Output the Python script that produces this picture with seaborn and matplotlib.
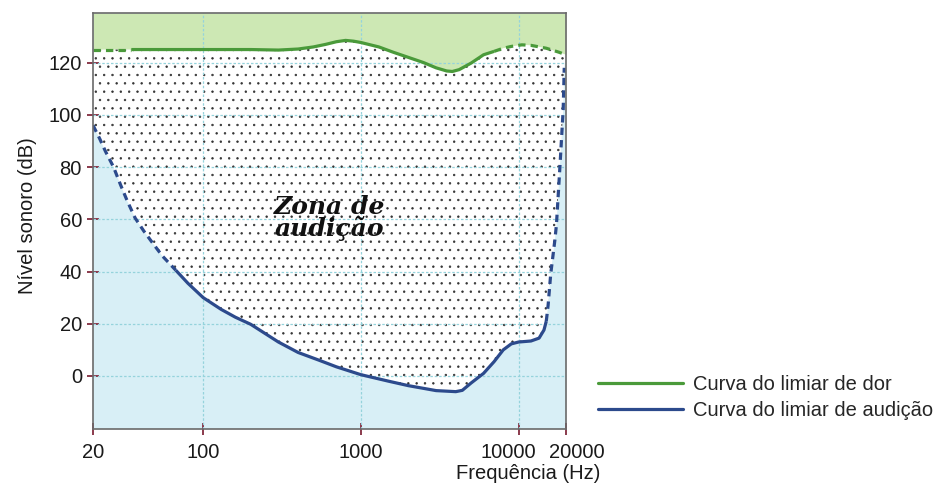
import numpy as np
import pandas as pd
import matplotlib
matplotlib.use("Agg")
import matplotlib.pyplot as plt
from matplotlib.lines import Line2D
from matplotlib.transforms import ScaledTranslation
import seaborn as sns

# ---------------- data ----------------
pain_freq = [20, 25, 30, 35, 50, 100, 200, 300, 400, 500, 600, 700, 800, 900,
             1000, 1300, 1600, 2000, 2500, 3000, 3500, 3800, 4200, 5000, 6000,
             7000, 8000, 9000, 10500, 12000, 15000, 18000, 20000]
pain_db = [125, 125, 125, 125, 125, 125, 125, 124.8, 125.2, 126, 127, 128, 128.5, 128.2,
           127.7, 126, 124, 122, 120, 118, 116.8, 116.6, 117.3, 119.8, 123,
           124.3, 125.5, 126.2, 126.8, 126.6, 125.5, 124, 123]
pain_solid = (35, 7000)

hear_freq = [20, 22, 24, 27, 30, 33, 37, 42, 47, 55, 67, 80, 100, 130, 160, 200,
             300, 400, 545, 700, 1000, 1500, 2000, 3000, 4000, 4400, 5000, 6000,
             7000, 8000, 9000, 10000, 12000, 13500, 14500, 15000, 15400, 16000,
             17000, 17400, 18300, 19200, 19500]
hear_db = [96, 91, 86, 80, 73, 67, 60.5, 55.5, 51.5, 46, 40.5, 35.5, 30, 25.5, 22.5, 19.8,
           13, 9, 6, 3.5, 0.5, -2, -3.7, -5.6, -6, -5.5, -2.7, 1,
           5.5, 10, 12.3, 13, 13.4, 14.5, 17.6, 21, 27, 39,
           52, 58, 80, 102, 118]
hear_solid = (67, 15000)

x_ticks = [20, 100, 1000, 10000, 20000]
y_ticks = [0, 20, 40, 60, 80, 100, 120]
legend_labels = ["Curva do limiar de dor", "Curva do limiar de audição"]

# ---------------- style ----------------
sns.set_theme(style="white")
plt.rcParams["font.family"] = ["Liberation Sans", "DejaVu Sans"]
plt.rcParams["hatch.linewidth"] = 0.5

GREEN_LINE = "#4a9a3a"
GREEN_FILL = "#cde8b4"
BLUE_LINE = "#2c4a8c"
BLUE_FILL = "#d8eff6"
GRID = "#95d3dc"
TICK = "#8a3a4c"

fig = plt.figure(figsize=(9.49, 4.90), dpi=100)
ax = fig.add_axes([0.098, 0.1245, 0.4984, 0.849])
ax.set_xscale("log")
ax.set_xlim(20, 20000)
ax.set_ylim(-20.3, 139)
ax.set_facecolor(BLUE_FILL)

pf = np.array(pain_freq, float); pd_ = np.array(pain_db, float)
hf = np.array(hear_freq, float); hd = np.array(hear_db, float)

# green area above pain threshold
ax.fill_between(pf, pd_, 139, color=GREEN_FILL, lw=0, zorder=0.2)
# hearing zone (stippled) between both curves
poly_x = np.concatenate([hf, pf[::-1]])
poly_y = np.concatenate([hd, pd_[::-1]])
ax.fill(poly_x, poly_y, facecolor="white", edgecolor="#333333", hatch="..",
        lw=0, zorder=0.3)

# grid
for xv in [100, 1000, 10000]:
    ax.axvline(xv, color=GRID, lw=0.9, ls=(0, (2, 1.5)), zorder=0.6)
for yv in y_ticks:
    ax.axhline(yv, color=GRID, lw=0.9, ls=(0, (2, 1.5)), zorder=0.6)

def draw_curve(freq, db, solid, color):
    df = pd.DataFrame({"f": freq, "db": db})
    lo, hi = solid
    left = df[df.f <= lo]
    mid = df[(df.f >= lo) & (df.f <= hi)]
    right = df[df.f >= hi]
    for part, dashed in [(left, True), (mid, False), (right, True)]:
        if len(part) < 2:
            continue
        kw = dict(dashes=(2.3, 1.6)) if dashed else {}
        sns.lineplot(data=part, x="f", y="db", ax=ax, color=color, lw=2.3,
                     sort=False, estimator=None, legend=False, zorder=3,
                     solid_capstyle="butt", dash_capstyle="butt", **kw)

draw_curve(pain_freq, pain_db, pain_solid, GREEN_LINE)
draw_curve(hear_freq, hear_db, hear_solid, BLUE_LINE)

# text inside zone
ax.text(630, 60.5, "Zona de\naudição", ha="center", va="center",
        fontsize=18, fontstyle="italic", fontweight="bold",
        family=["DejaVu Serif"], linespacing=0.85, color="#111111", zorder=4)

# axes styling
ax.set_xticks(x_ticks)
ax.set_xticklabels([str(v) for v in x_ticks])
ax.xaxis.set_minor_locator(matplotlib.ticker.NullLocator())
ax.set_yticks(y_ticks)
ax.set_yticklabels([str(v) for v in y_ticks])
ax.tick_params(axis="both", which="major", direction="inout", length=8,
               width=1.4, color=TICK, labelsize=14.5, labelcolor="#1a1a1a", pad=4)
ax.tick_params(axis="x", pad=6)
ax.tick_params(top=False, right=False, left=True, bottom=True)
for s in ax.spines.values():
    s.set_color("#6a6a6a")
    s.set_linewidth(1.2)
    s.set_zorder(5)

# nudge the two crowded labels apart, as in the reference
xlabs = ax.get_xticklabels()
for lab, dx in zip(xlabs, [0, 0, 0, -7, 8]):
    if dx:
        lab.set_transform(lab.get_transform() + ScaledTranslation(dx / 72, 0, fig.dpi_scale_trans))

ax.set_xlabel("Frequência (Hz)", fontsize=14.5, color="#1a1a1a")
ax.xaxis.set_label_coords(0.92, -0.085)
ax.set_ylabel("Nível sonoro (dB)", fontsize=14.5, color="#1a1a1a")
ax.yaxis.set_label_coords(-0.118, 0.514)

handles = [Line2D([], [], color=GREEN_LINE, lw=2.3),
           Line2D([], [], color=BLUE_LINE, lw=2.3)]
ax.legend(handles, legend_labels, loc="upper left", bbox_to_anchor=(1.068, 0.13),
          frameon=False, handlelength=4.2, fontsize=14.5, borderaxespad=0,
          borderpad=0, labelspacing=0.35, handletextpad=0.5)

fig.savefig("out.png", dpi=100)
